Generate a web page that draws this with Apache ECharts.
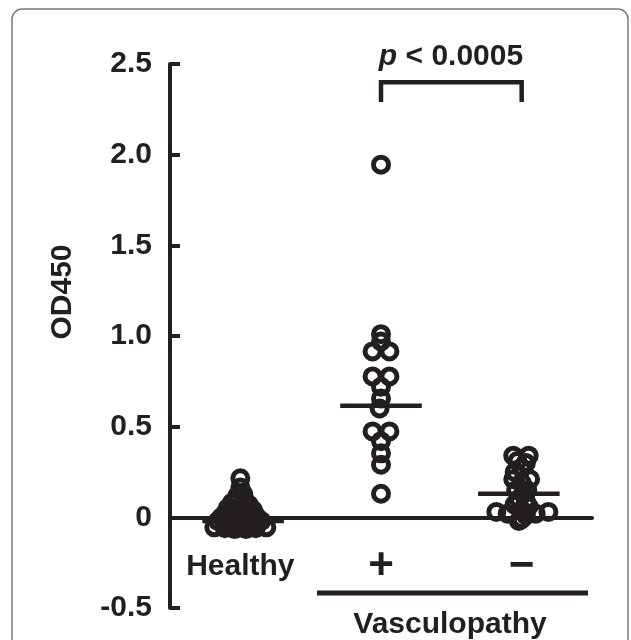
<!DOCTYPE html>
<html>
<head>
<meta charset="utf-8">
<script src="https://cdn.jsdelivr.net/npm/echarts@6/dist/echarts.min.js"></script>
<style>
  html, body { margin: 0; padding: 0; background: #fff; }
  #main { width: 631px; height: 640px; }
</style>
</head>
<body>
<div id="main"></div>
<script>
// groups on the x axis
const categories = ['Healthy', '+', '\u2212'];

// OD450 values, with the horizontal scatter of each dot (in category widths)
const healthyValues = [0.215, 0.165, 0.13, 0.12, 0.10, 0.09, 0.08, 0.07, 0.06, 0.05, 0.05, 0.04, 0.03, 0.02, 0.02, 0.02,
  0.01, 0.01, 0.0, -0.005, -0.01, -0.01, -0.015, -0.02, -0.02, -0.03, -0.03, -0.035, -0.04, -0.045,
  -0.055, -0.055, -0.06, -0.065, -0.065, -0.06, -0.05, -0.05];
const healthyJitter = [0, 0, 0.02, -0.02, 0.03, -0.03, -0.06, 0.06, 0, -0.09, 0.04, 0.09, -0.04, -0.11, -0.02, 0.04,
  0.11, 0.07, -0.135, -0.06, 0.01, 0.08, -0.03, 0.15, -0.16, -0.09, -0.02, 0.05, 0.11, 0.02,
  -0.185, 0.185, -0.11, -0.04, 0.04, 0.11, -0.07, 0.07];

const posValues = [1.945, 1.01, 0.97, 0.915, 0.915, 0.777, 0.777, 0.72, 0.656, 0.60, 0.474, 0.474, 0.42, 0.353, 0.29, 0.13];
const posJitter = [0, 0, 0, -0.06, 0.06, -0.06, 0.06, 0, 0, -0.01, -0.06, 0.06, 0, 0, 0, 0];

const negValues = [0.34, 0.34, 0.31, 0.30, 0.27, 0.25, 0.21, 0.21, 0.19, 0.15, 0.15, 0.13, 0.10, 0.09, 0.07, 0.06,
  0.04, 0.03, 0.03, 0.02, 0.02, 0.01, -0.01, -0.02];
const negJitter = [-0.06, 0.05, -0.03, 0.03, 0, -0.05, -0.06, 0.06, 0, -0.04, 0.04, 0.01, -0.02, 0.03, -0.05, 0.05,
  0, -0.18, 0.19, -0.1, 0.1, 0.03, 0, -0.02];

// horizontal bars: group mean
const groupCenters = [0.52, 1.5, 2.48];
const groupMeans = [-0.02, 0.615, 0.13];

// significance bracket between + and -
const bracketGroups = [1.5, 2.5];
const bracketLevels = [2.29, 2.40];
const pLabel = ' < 0.0005';
const groupTitle = 'Vasculopathy';
const yTitle = 'OD450';

const ink = '#231f20';
const font = '"Liberation Sans", Arial, Helvetica, sans-serif';

function dots(values, jitter, center) {
  return values.map((v, i) => [center + jitter[i], v]);
}

const dotStyle = { color: 'rgba(0,0,0,0)', borderColor: ink, borderWidth: 5, opacity: 1 };

const chart = echarts.init(document.getElementById('main'));

const series = [
  { type: 'scatter', xAxisIndex: 1, data: dots(healthyValues, healthyJitter, 0.5), symbolSize: 15, itemStyle: dotStyle, silent: true },
  { type: 'scatter', xAxisIndex: 1, data: dots(posValues, posJitter, 1.5), symbolSize: 15, itemStyle: dotStyle, silent: true },
  { type: 'scatter', xAxisIndex: 1, data: dots(negValues, negJitter, 2.5), symbolSize: 15, itemStyle: dotStyle, silent: true }
];

groupMeans.forEach((m, i) => {
  series.push({
    type: 'line', xAxisIndex: 1, symbol: 'none', z: 5, silent: true,
    lineStyle: { color: ink, width: 4.5, cap: 'butt' },
    data: [[groupCenters[i] - 0.29, m], [groupCenters[i] + 0.29, m]]
  });
});

series.push({
  type: 'line', xAxisIndex: 1, symbol: 'none', silent: true,
  lineStyle: { color: ink, width: 4.5, join: 'miter', cap: 'butt' },
  data: [
    [bracketGroups[0], bracketLevels[0]], [bracketGroups[0], bracketLevels[1]],
    [bracketGroups[1], bracketLevels[1]], [bracketGroups[1], bracketLevels[0]]
  ]
});

chart.setOption({
  animation: false,
  grid: { left: 170, right: 39, top: 64, bottom: 32, containLabel: false, outerBoundsMode: 'none' },
  xAxis: [
    {
      type: 'category',
      data: categories,
      boundaryGap: true,
      axisLine: { onZero: true, lineStyle: { color: ink, width: 4 } },
      axisTick: { inside: true, length: 12, interval: 0, lineStyle: { color: ink, width: 4 } },
      axisLabel: {
        interval: 0, hideOverlap: false,
        color: ink, fontFamily: font, fontWeight: 'bold', fontSize: 30, lineHeight: 30, margin: -56,
        rich: { s: { fontSize: 44, lineHeight: 30, fontWeight: 'bold', fontFamily: font, color: ink } },
        formatter: (v, i) => i === 0 ? v : '{s|' + v + '}'
      },
      splitLine: { show: false }
    },
    { type: 'value', min: 0, max: 3, show: false }
  ],
  yAxis: {
    type: 'value',
    min: -0.5, max: 2.5, interval: 0.5,
    axisLine: { show: true, lineStyle: { color: ink, width: 4 } },
    axisTick: { show: true, inside: true, length: 10, lineStyle: { color: ink, width: 4 } },
    axisLabel: {
      color: ink, fontFamily: font, fontWeight: 'bold', fontSize: 30, margin: 18,
      formatter: v => v === 0 ? '0' : v.toFixed(1)
    },
    splitLine: { show: false }
  },
  graphic: [
    {
      type: 'rect', silent: true,
      shape: { x: 12, y: 9, width: 616, height: 700, r: 10 },
      style: { fill: 'none', stroke: '#7a7a7a', lineWidth: 1.5 }
    },
    {
      type: 'text', silent: true, x: 451, y: 57,
      style: {
        text: '{i|p}' + pLabel, align: 'center', verticalAlign: 'middle',
        fill: ink, font: 'bold 30px ' + font,
        rich: { i: { fontStyle: 'italic', fontWeight: 'bold', fontSize: 30, fontFamily: font, fill: ink } }
      }
    },
    {
      type: 'text', silent: true, x: 63, y: 292, rotation: Math.PI / 2,
      style: { text: yTitle, align: 'center', verticalAlign: 'middle', fill: ink, font: 'bold 30px ' + font }
    },
    {
      type: 'line', silent: true,
      shape: { x1: 317, y1: 593, x2: 588, y2: 593 },
      style: { stroke: ink, lineWidth: 5 }
    },
    {
      type: 'text', silent: true, x: 450, y: 625,
      style: { text: groupTitle, align: 'center', verticalAlign: 'middle', fill: ink, font: 'bold 30px ' + font }
    }
  ],
  series: series
});
</script>
</body>
</html>
